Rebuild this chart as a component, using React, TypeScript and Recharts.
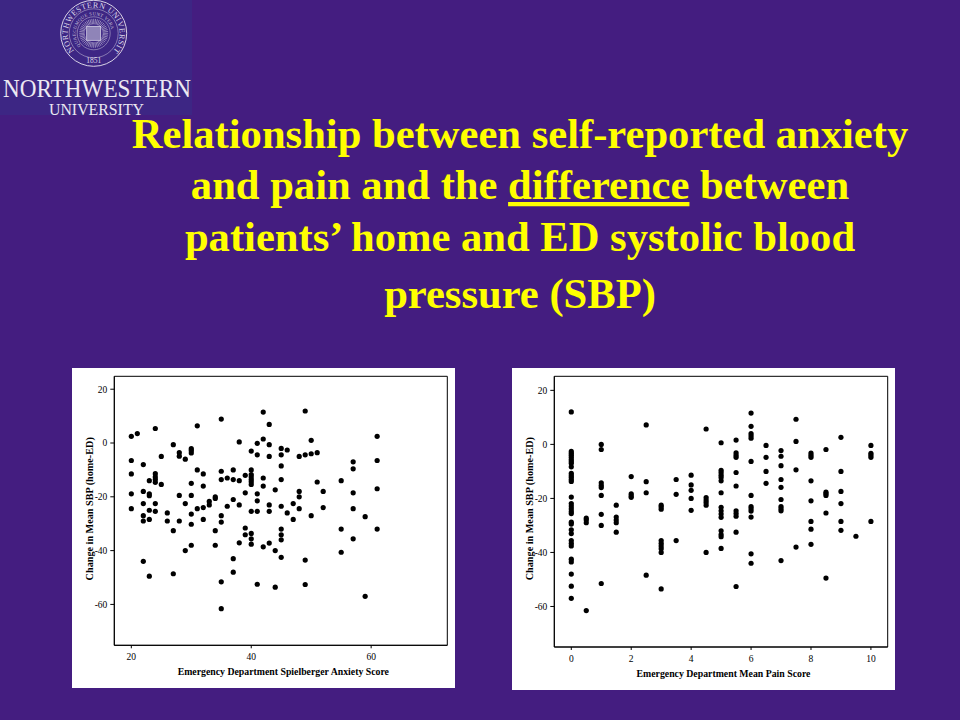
import React from "react";
import { ScatterChart, Scatter, XAxis, YAxis, ReferenceArea } from "recharts";

const titleLines = ["Relationship between self-reported anxiety", "patients’ home and ED systolic blood", "pressure (SBP)"];
const anxietyPoints = [
  [20,2.5],[21,3.5],[24,5.4],[31,6.4],[35,8.9],[42,11.5],[43,6.9],[27,-0.6],[28,-3.6],[28,-4.9],[29,-6],[30,-2.1],[30,-2.8],[30,-3.7],[25,-5],[20,-6.5],[22,-8],[20,-11.5],[24,-11.4],[24,-12.6],[24,-13.6],[24,-14.6],[23,-14],[25,-15.4],[31,-10],[32,-11.5],[30,-15],[32,-16],[35,-10.5],[35,-13.6],[36,-13],[37,-10],[37,-13.6],[38,-14],[38,0.4],[40,-3],[41,-0.1],[42,1.5],[43,-0.6],[41,-4.4],[43,-5],[39,-12],[40,-10],[40,-11.7],[40,-12.6],[40,-13.6],[40,-14.4],[40,-15.4],[42,-13],[42,-16],
  [20,-18.9],[22,-18],[23,-18.9],[23,-19.6],[28,-19.5],[30,-19.5],[39,-18.5],[41,-18.9],[34,-20],[34,-20.6],[33,-21.7],[33,-23],[37,-21],[41,-21.5],[22,-22.5],[24,-22.5],[29,-22.5],[38,-23],[43,-23],[36,-23.5],[32,-24],[31,-24.4],[20,-24.4],[23,-25],[24,-25.4],[26,-26],[40,-25.4],[41,-25.4],[43,-25.4],[22,-27],[30,-26.4],[35,-27],[22,-29],[23,-28.4],[26,-29],[28,-29],[32,-28.4],[30,-30.2],[35,-29.4],
  [27,-32.6],[34,-32.6],[39,-31.6],[39,-34.1],[40,-33.6],[40,-35.6],[38,-37.1],[40,-37.6],[42,-38.6],[43,-37.2],[30,-38],[34,-38],[29,-40],[37,-43],[22,-44],[23,-49.5],[27,-48.6],[37,-48],[35,-51.6],[41,-52.5],[35,-61.6],
  [49,11.9],[61,2.5],[50,1],[45,-2],[46,-2.6],[45,-4.4],[48,-5],[49,-4.4],[50,-4],[51,-3.6],[57,-7],[61,-6.5],[57,-9.6],[45,-8.5],[45,-13.6],[55,-14],[51,-14.5],[44,-17.4],[48,-18],[48,-20],[52,-18],[57,-18.5],[61,-17],[45,-23.5],[47,-22.5],[48,-24.4],[52,-24],[57,-24.4],[46,-26],[47,-28.4],[50,-27],[59,-27.4],
  [45,-32],[55,-32],[61,-32],[45,-34.1],[45,-36],[44,-40],[45,-42.5],[49,-43.5],[57,-35.6],[55,-40.6],[44,-53.6],[49,-52.6],[59,-57],
];
const painPoints = [
  [0,12],[0,-2.6],[0,-3.3],[0,-4],[0,-4.8],[0,-5.6],[0,-6.3],[0,-7],[0,-8.3],[0,-10.7],[0,-11.5],[0,-12.2],[0,-13],[0,-13.7],[0,-19.5],[0,-21.9],[0,-22.8],[0,-23.8],[0,-24.8],[0,-25.6],[0,-28.8],[0,-29.5],[0,-31.6],[0,-33],[0,-35.6],[0,-36.6],[0,-37.6],[0,-42.5],[0,-43.5],[0,-48],[0,-52.5],[0,-57],
  [0.5,-27.3],[0.5,-28],[0.5,-29],[0.5,-61.5],
  [1,0],[1,-1.9],[1,-14.2],[1,-15.2],[1,-16],[1,-18.9],[1,-25.9],[1,-30],[1,-51.5],
  [1.5,-22.5],[1.5,-26.9],[1.5,-28],[1.5,-29],[1.5,-32.5],
  [2,-11.9],[2,-18.3],[2,-19],[2,-19.6],
  [2.5,7.2],[2.5,-13.8],[2.5,-17.9],[2.5,-48.4],
  [3,-22.5],[3,-23.2],[3,-24],[3,-35.6],[3,-36.6],[3,-37.6],[3,-38.6],[3,-40],[3,-53.5],
  [3.5,-13],[3.5,-18.5],[3.5,-35.6],
  [4,-11.4],[4,-15],[4,-17],[4,-20],[4,-24.4],
  [4.5,5.7],[4.5,-19.7],[4.5,-20.6],[4.5,-21.5],[4.5,-22.5],[4.5,-40],
  [5,0.6],[5,-9.6],[5,-10.4],[5,-11.4],[5,-12.3],[5,-13.5],[5,-17.9],[5,-23.3],[5,-24.6],[5,-25.8],[5,-27],[5,-32],[5,-33.4],[5,-34.2],[5,-38.5],
  [5.5,1.6],[5.5,-3.1],[5.5,-4],[5.5,-4.8],[5.5,-10.4],[5.5,-15.4],[5.5,-24.6],[5.5,-25.6],[5.5,-26.6],[5.5,-32.5],[5.5,-52.6],
  [6,11.6],[6,6.7],[6,4],[6,3.2],[6,2.3],[6,-6.3],[6,-18.9],[6,-23],[6,-23.8],[6,-24.7],[6,-26.9],[6,-40.5],[6,-44],
  [6.5,-0.4],[6.5,-4.8],[6.5,-10],[6.5,-14.4],
  [7,-2.3],[7,-4.4],[7,-7.9],[7,-13],[7,-15.9],[7,-20.4],[7,-23],[7,-23.8],[7,-24.6],[7,-43],
  [7.5,9.3],[7.5,1.1],[7.5,-9.4],[7.5,-38],
  [8,-3.2],[8,-4],[8,-4.8],[8,-13.5],[8,-20.9],[8,-28.5],[8,-31.4],[8,-37],
  [8.5,-1.9],[8.5,-17.7],[8.5,-18.3],[8.5,-18.9],[8.5,-25.4],[8.5,-49.5],
  [9,2.6],[9,-10],[9,-17.4],[9,-21.9],[9,-28.5],[9,-31.8],
  [9.5,-34],
  [10,-0.4],[10,-3.3],[10,-4],[10,-4.8],[10,-28.5],
];
const anxietyTicks = [20, 40, 60];
const painTicks = [0, 2, 4, 6, 8, 10];
const sbpTicks = [-60, -40, -20, 0, 20];

const FONT = "'Liberation Serif', serif";
const toRows = (pts: number[][]) => pts.map(([x, y]) => ({ x, y }));
const Dot = (p: any) => <circle cx={p.cx} cy={p.cy} r={2.6} fill="#000" />;

function Panel({ left, top, w, h, plot, data, xDomain, yDomain, xTicks, xLabel, xLabelDy, yLabelDy }: any) {
  const margin = { top: plot.top, right: w - plot.right, bottom: 0, left: 0 };
  return (
    <div style={{ position: "absolute", left, top, width: w, height: h, background: "#fff" }}>
      <ScatterChart width={w} height={h} margin={margin}>
        <XAxis
          dataKey="x" type="number" domain={xDomain} ticks={xTicks} interval={0} allowDataOverflow
          height={h - plot.bottom} tickSize={3} tickMargin={5} stroke="#000"
          tick={{ fontFamily: FONT, fontSize: 9.5, fill: "#000" }}
          label={{ value: xLabel, position: "insideTop", dy: xLabelDy, dx: 2.5, fontFamily: FONT, fontSize: 9.8, fontWeight: 700, fill: "#000" }}
        />
        <YAxis
          dataKey="y" type="number" domain={yDomain} ticks={sbpTicks} interval={0} allowDataOverflow
          width={plot.left} tickSize={4} tickMargin={3} stroke="#000"
          tick={{ fontFamily: FONT, fontSize: 9.5, fill: "#000" }}
          label={{ value: "Change in Mean SBP (home-ED)", angle: -90, position: "insideLeft", dx: 12, dy: yLabelDy, fontFamily: FONT, fontSize: 10.2, fontWeight: 700, fill: "#000", textAnchor: "middle" }}
        />
        <ReferenceArea x1={xDomain[0]} x2={xDomain[1]} y1={yDomain[0]} y2={yDomain[1]} fill="none" fillOpacity={0} stroke="#000" strokeWidth={1} strokeOpacity={1} />
        <Scatter data={data} fill="#000" stroke="none" shape={Dot} isAnimationActive={false} />
      </ScatterChart>
    </div>
  );
}

function Logo() {
  const cx = 93.7, cy = 33.3;
  const rays = [];
  for (let a = 0; a < 360; a += 7.5) {
    const r = (a * Math.PI) / 180;
    rays.push(<line key={a} x1={cx + 9 * Math.cos(r)} y1={cy + 9 * Math.sin(r)} x2={cx + 14.5 * Math.cos(r)} y2={cy + 14.5 * Math.sin(r)} stroke="#cfc8de" strokeWidth={0.6} />);
  }
  return (
    <g>
      <rect x={0} y={0} width={192} height={115} fill="#3d2684" />
      <defs>
        <path id="sealTop" d={`M ${cx - 19.5} ${cy + 17.5} A 26 26 0 1 1 ${cx + 19.5} ${cy + 17.5}`} />
        <path id="sealMid" d={`M ${cx - 13} ${cy + 12.5} A 18 18 0 1 1 ${cx + 13} ${cy + 12.5}`} />
      </defs>
      <circle cx={cx} cy={cy} r={33} fill="none" stroke="#d8d2e6" strokeWidth={1} />
      <circle cx={cx} cy={cy} r={24.5} fill="none" stroke="#cfc8de" strokeWidth={0.5} />
      <circle cx={cx} cy={cy} r={16.5} fill="none" stroke="#cfc8de" strokeWidth={0.5} />
      {rays}
      <rect x={cx - 7} y={cy - 7} width={14} height={14} fill="#8f84b8" stroke="#e4dfee" strokeWidth={0.7} />
      <text fontFamily={FONT} fontSize={8} fill="#dcd6e9" letterSpacing={0.45}>
        <textPath href="#sealTop">NORTHWESTERN UNIVERSITY</textPath>
      </text>
      <text fontFamily={FONT} fontSize={4.6} fill="#cfc8de" letterSpacing={0.35}>
        <textPath href="#sealMid">QUAECUMQUE SUNT VERA</textPath>
      </text>
      <text x={cx} y={cy + 30} textAnchor="middle" fontFamily={FONT} fontSize={7.5} fill="#dcd6e9">1851</text>
      <text x={97} y={96.5} textAnchor="middle" fontFamily={FONT} fontSize={26} fill="#ece8f2" textLength={188} lengthAdjust="spacingAndGlyphs">NORTHWESTERN</text>
      <text x={96.5} y={114.5} textAnchor="middle" fontFamily={FONT} fontSize={17.5} fill="#ece8f2" textLength={95} lengthAdjust="spacingAndGlyphs">UNIVERSITY</text>
    </g>
  );
}

export default function App() {
  const titleStyle = { fontFamily: FONT, fontWeight: 700, fontSize: 42.6, fill: "#ffff00" } as const;
  return (
    <div style={{ position: "absolute", left: 0, top: 0, width: 960, height: 720, background: "#441d80", overflow: "hidden" }}>
      <svg width={960} height={720} style={{ position: "absolute", left: 0, top: 0 }}>
        <Logo />
        <text x={520} y={148} textAnchor="middle" {...titleStyle}>{titleLines[0]}</text>
        <text x={520} y={199} textAnchor="middle" {...titleStyle}>
          and pain and the <tspan textDecoration="underline">difference</tspan> between
        </text>
        <text x={520} y={251} textAnchor="middle" {...titleStyle}>{titleLines[1]}</text>
        <text x={520} y={308} textAnchor="middle" {...titleStyle}>{titleLines[2]}</text>
      </svg>
      <Panel left={72} top={368} w={383} h={320} plot={{ left: 42.3, top: 8.3, right: 375.3, bottom: 277.3 }}
        data={toRows(anxietyPoints)} xDomain={[17.16, 72.7]} yDomain={[-75.2, 24.8]} xTicks={anxietyTicks}
        xLabel="Emergency Department Spielberger Anxiety Score" xLabelDy={18} yLabelDy={-2} />
      <Panel left={512} top={368} w={383} h={322} plot={{ left: 42.3, top: 8.3, right: 375.7, bottom: 279 }}
        data={toRows(painPoints)} xDomain={[-0.567, 10.56]} yDomain={[-75, 25.2]} xTicks={painTicks}
        xLabel="Emergency Department Mean Pain Score" xLabelDy={18} yLabelDy={-3} />
    </div>
  );
}
